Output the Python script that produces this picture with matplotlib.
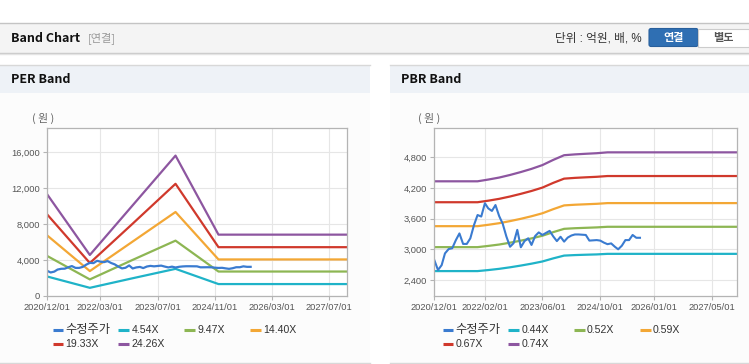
import matplotlib
matplotlib.use("Agg")
import matplotlib.pyplot as plt
import matplotlib.dates as mdates
from matplotlib.patches import Rectangle, FancyBboxPatch
from matplotlib.ticker import FuncFormatter, FixedLocator
from matplotlib.lines import Line2D
import pandas as pd

# ---------------- data ----------------
price_dates = [
    "2020-12-01", "2021-01-01", "2021-02-01", "2021-03-01", "2021-04-01", "2021-05-01",
    "2021-06-01", "2021-07-01", "2021-08-01", "2021-09-01", "2021-10-01", "2021-11-01",
    "2021-12-01", "2022-01-01", "2022-02-01", "2022-03-01", "2022-04-01", "2022-05-01",
    "2022-06-01", "2022-07-01", "2022-08-01", "2022-09-01", "2022-10-01", "2022-11-01",
    "2022-12-01", "2023-01-01", "2023-02-01", "2023-03-01", "2023-04-01", "2023-05-01",
    "2023-06-01", "2023-07-01", "2023-08-01", "2023-09-01", "2023-10-01", "2023-11-01",
    "2023-12-01", "2024-01-01", "2024-02-01", "2024-03-01", "2024-04-01", "2024-05-01",
    "2024-06-01", "2024-07-01", "2024-08-01", "2024-09-01", "2024-10-01", "2024-11-01",
    "2024-12-01", "2025-01-01", "2025-02-01", "2025-03-01", "2025-04-01", "2025-05-01",
    "2025-06-01", "2025-07-01", "2025-08-01", "2025-09-01",
]
price_values = [
    2790, 2595, 2690, 2920, 3005, 3020,
    3180, 3310, 3105, 3105, 3215, 3475,
    3670, 3640, 3900, 3800, 3750, 3865,
    3650, 3500, 3250, 3050, 3120, 3380,
    3040, 3160, 3215, 3085, 3260, 3330,
    3280, 3320, 3360, 3250, 3160, 3245,
    3150, 3230, 3270, 3290, 3290, 3285,
    3280, 3170, 3175, 3180, 3170, 3130,
    3100, 3115, 3050, 3000, 3070, 3180,
    3180, 3280, 3225, 3225,
]

per_dates = ["2020-12-01", "2021-12-01", "2022-12-01", "2023-12-01", "2024-12-01", "2027-12-01"]
per_454 = [2150, 880, 1950, 3000, 1300, 1300]
per_947 = [4450, 1820, 4000, 6150, 2700, 2700]
per_1440 = [6750, 2750, 6050, 9350, 4050, 4050]
per_1933 = [9100, 3650, 8050, 12500, 5420, 5420]
per_2426 = [11350, 4550, 10100, 15650, 6820, 6820]

pbr_dates = ["2020-12-01", "2021-12-01", "2022-03-01", "2022-06-01", "2022-09-01",
             "2022-12-01", "2023-03-01", "2023-06-01", "2023-09-01", "2023-12-01",
             "2024-03-01", "2024-06-01", "2024-09-01", "2024-12-01", "2027-12-01"]
pbr_044 = [2574, 2574, 2594, 2618, 2648, 2682, 2719, 2762, 2823, 2877, 2887, 2894, 2900, 2911, 2911]
pbr_052 = [3042, 3042, 3066, 3093, 3129, 3169, 3213, 3265, 3336, 3400, 3412, 3420, 3428, 3440, 3440]
pbr_059 = [3452, 3452, 3479, 3510, 3551, 3596, 3646, 3704, 3785, 3858, 3871, 3880, 3889, 3903, 3903]
pbr_067 = [3920, 3920, 3950, 3986, 4032, 4084, 4140, 4206, 4299, 4381, 4396, 4407, 4417, 4432, 4432]
pbr_074 = [4329, 4329, 4363, 4402, 4453, 4510, 4572, 4646, 4748, 4839, 4855, 4867, 4878, 4895, 4895]

per_labels = ["수정주가", "4.54X", "9.47X", "14.40X", "19.33X", "24.26X"]
pbr_labels = ["수정주가", "0.44X", "0.52X", "0.59X", "0.67X", "0.74X"]

per_xticks = ["2020-12-01", "2022-03-01", "2023-07-01", "2024-11-01", "2026-03-01", "2027-07-01"]
pbr_xticks = ["2020-12-01", "2022-02-01", "2023-06-01", "2024-10-01", "2026-01-01", "2027-05-01"]
per_yticks = [0, 4000, 8000, 12000, 16000]
pbr_yticks = [2400, 3000, 3600, 4200, 4800]

colors = ["#3a7bd0", "#1fb3c8", "#8db653", "#f3a735", "#d0392c", "#8d56a0"]

# ---------------- figure ----------------
W, H = 749, 364
fig = plt.figure(figsize=(W / 100, H / 100), dpi=100)
fig.patch.set_facecolor("white")

KR = ["Noto Sans CJK KR", "DejaVu Sans"]
LAT = ["Liberation Sans", "Noto Sans CJK KR", "DejaVu Sans"]

bg = fig.add_axes([0, 0, 1, 1], zorder=0)
bg.set_xlim(0, W)
bg.set_ylim(H, 0)
bg.axis("off")

# top header
bg.add_patch(Rectangle((0, 23), W, 29.5, facecolor="#f4f4f4", edgecolor="none"))
bg.plot([0, W], [22.5, 22.5], color="#c4c4c4", lw=1)
bg.plot([0, W], [52.5, 52.5], color="#c8c8c8", lw=1)
bg.plot([0, W], [53.5, 53.5], color="#e4e4e4", lw=1)
bg.text(11, 38.5, "Band Chart", fontsize=9, fontweight="bold", family=KR, color="#111111", va="center", ha="left")
bg.text(88, 38.5, "[연결]", fontsize=8, family=KR, color="#999999", va="center", ha="left")
bg.text(641.5, 38.5, "단위 : 억원, 배, %", fontsize=8.4, family=LAT, color="#333333", va="center", ha="right")
bg.add_patch(FancyBboxPatch((649, 28.5), 49, 18, boxstyle="round,pad=0,rounding_size=2",
                            facecolor="#2f6fb3", edgecolor="#285f9c", lw=0.8))
bg.add_patch(Rectangle((698, 28.5), 51, 18, facecolor="white", edgecolor="#cccccc", lw=0.8))
bg.text(673.5, 38, "연결", fontsize=8, fontweight="bold", family=KR, color="white", va="center", ha="center")
bg.text(723.5, 38, "별도", fontsize=8, fontweight="bold", family=KR, color="#555555", va="center", ha="center")

# panels
for x0, x1, title in [(0, 370, "PER Band"), (390, 749, "PBR Band")]:
    bg.add_patch(Rectangle((x0, 64.5), x1 - x0, 28.5, facecolor="#eef2f7", edgecolor="none"))
    bg.add_patch(Rectangle((x0, 93), x1 - x0, 270, facecolor="#fcfcfc", edgecolor="none"))
    bg.plot([x0, x1], [64.5, 64.5], color="#d8d8d8", lw=1)
    bg.plot([x0, x1], [363, 363], color="#d8d8d8", lw=1)
    bg.text(x0 + 11, 79.5, title, fontsize=9, fontweight="bold", family=KR, color="#111111", va="center", ha="left")

bg.text(43, 118, "( 원 )", fontsize=7.8, family=KR, color="#666666", va="center", ha="center")
bg.text(429, 118, "( 원 )", fontsize=7.8, family=KR, color="#666666", va="center", ha="center")


def make_axes(left, right, top, bottom):
    return fig.add_axes([left / W, (H - bottom) / H, (right - left) / W, (bottom - top) / H], zorder=2)


def style_axes(ax, xticks, yticks, ylim):
    ax.set_facecolor("white")
    ax.set_xlim(pd.Timestamp("2020-12-01"), pd.Timestamp("2027-12-01"))
    ax.set_ylim(*ylim)
    ax.xaxis.set_major_locator(FixedLocator(mdates.date2num(pd.to_datetime(xticks))))
    ax.xaxis.set_major_formatter(FuncFormatter(lambda v, p: mdates.num2date(v).strftime("%Y/%m/%d")))
    ax.set_yticks(yticks)
    ax.yaxis.set_major_formatter(FuncFormatter(lambda v, p: f"{int(round(v)):,}"))
    ax.grid(True, color="#e6e6e6", lw=0.8)
    ax.set_axisbelow(True)
    for s in ax.spines.values():
        s.set_color("#b4b4b4")
        s.set_linewidth(0.9)
    ax.tick_params(axis="both", length=3, width=0.8, color="#b4b4b4", labelcolor="#555555",
                   labelsize=6.7, pad=2)
    for lab in ax.get_xticklabels() + ax.get_yticklabels():
        lab.set_family(LAT)


def legend(base_x, labels):
    for i, (lab, c) in enumerate(zip(labels, colors)):
        row, col = divmod(i, 4)
        x = base_x + col * 65.7
        y = 329.5 + row * 14.5
        bg.add_line(Line2D([x, x + 10.7], [y, y], color=c, lw=2.2, solid_capstyle="butt"))
        size = 8.8 if not lab[0].isascii() else 7.6
        bg.text(x + 13, y + 0.3, lab, fontsize=size, family=LAT, color="#333333", va="center", ha="left")


pdates = pd.to_datetime(price_dates)

# PER chart
ax1 = make_axes(47, 347, 128.3, 295.7)
pd_per = pd.to_datetime(per_dates)
for vals, c in zip([per_454, per_947, per_1440, per_1933, per_2426], colors[1:]):
    ax1.plot(pd_per, vals, color=c, lw=1.6)
ax1.plot(pdates, price_values, color=colors[0], lw=1.6)
style_axes(ax1, per_xticks, per_yticks, (0, 18700))
legend(52.7, per_labels)

# PBR chart
ax2 = make_axes(434.3, 737.3, 128.3, 295.7)
pd_pbr = pd.to_datetime(pbr_dates)
for vals, c in zip([pbr_044, pbr_052, pbr_059, pbr_067, pbr_074], colors[1:]):
    ax2.plot(pd_pbr, vals, color=c, lw=1.6)
ax2.plot(pdates, price_values, color=colors[0], lw=1.5)
style_axes(ax2, pbr_xticks, pbr_yticks, (2093, 5365))
legend(442.7, pbr_labels)

fig.savefig("out.png", dpi=100)
